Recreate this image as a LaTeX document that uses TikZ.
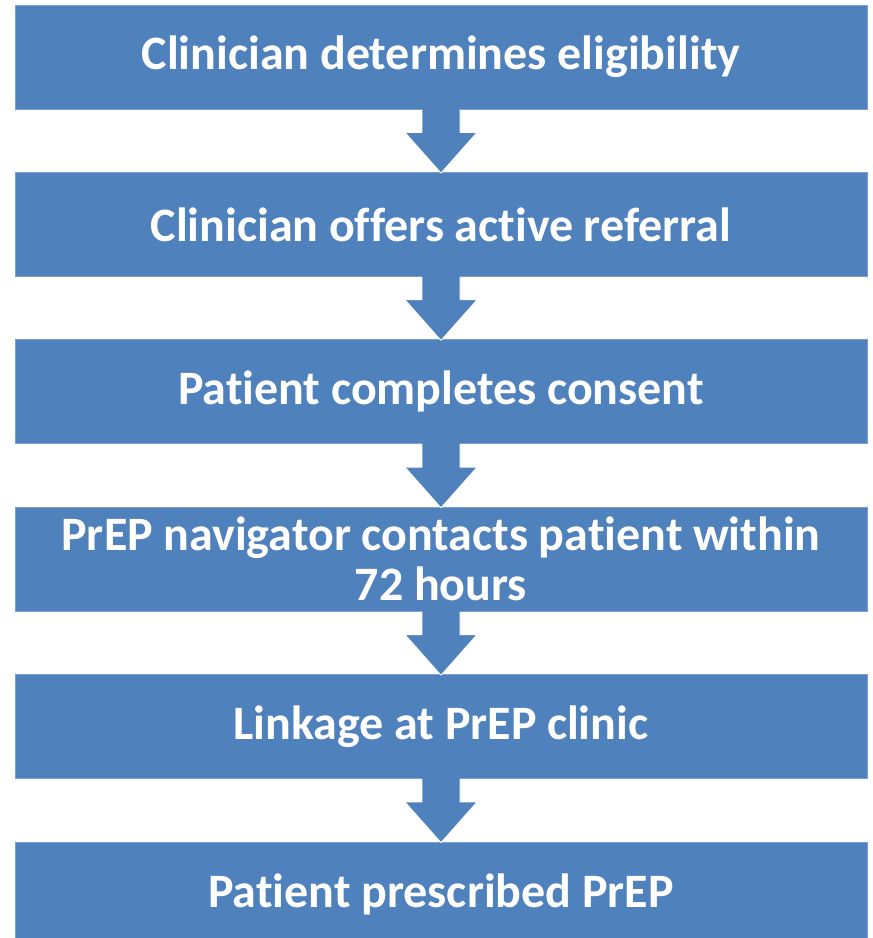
\documentclass[tikz,border=0pt]{standalone}
\usepackage{fontspec}
\setmainfont{Carlito}[Ligatures={NoCommon}]
\usetikzlibrary{positioning,calc}
\definecolor{boxblue}{RGB}{79,129,189}
\tikzset{
    stepbox/.style={fill=boxblue, draw=boxblue!75!white, line width=0.8pt,
        minimum width=852pt, minimum height=104pt, inner sep=0pt,
        text=white, align=center, text width=820pt,
        font=\bfseries\fontsize{48}{50}\selectfont,
        execute at begin node={\spaceskip=0.22em\relax}},
    downarrow/.style={fill=boxblue, draw=white, line width=0.8pt, line join=round}
}
\begin{document}
\begin{tikzpicture}[x=1pt,y=1pt]
        \useasboundingbox (0,0) rectangle (873,-938);

        \node[stepbox] (s1) at (441,-57) {Clinician determines eligibility};
        \node[stepbox, below=62.6pt of s1] (s2) {Clinician offers active referral};
        \node[stepbox, below=62.6pt of s2] (s3) {Patient completes consent};
        \node[stepbox, below=62.6pt of s3] (s4) {PrEP navigator contacts patient within\\72 hours};
        \node[stepbox, below=62.6pt of s4] (s5) {Linkage at PrEP clinic};
        \node[stepbox, below=62.6pt of s5] (s6) {Patient prescribed PrEP};

        % block arrows between the steps
        \foreach \a/\b in {s1/s2, s2/s3, s3/s4, s4/s5, s5/s6} {
            \fill[boxblue] ($(\a.south)+(-19,1)$) rectangle ($(\a.south)+(19,-23)$);
            \draw[downarrow] ($(\a.south)+(-19,0)$) -- ($(\a.south)+(-19,-23)$)
                -- ($(\a.south)+(-36,-23)$) -- ($(\b.north)+(0,-1)$)
                -- ($(\a.south)+(36,-23)$) -- ($(\a.south)+(19,-23)$)
                -- ($(\a.south)+(19,0)$);
        }
\end{tikzpicture}
\end{document}
